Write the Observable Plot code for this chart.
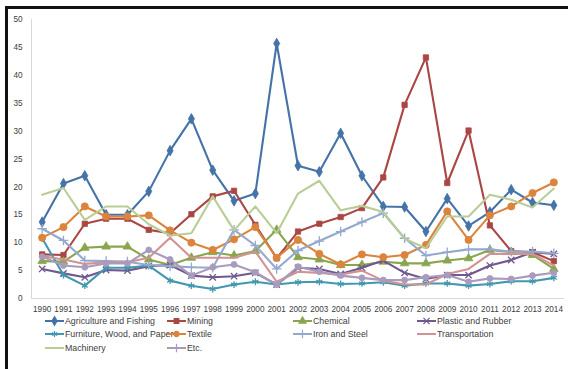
<!DOCTYPE html>
<html>
<head>
<meta charset="utf-8">
<script src="https://cdn.jsdelivr.net/npm/d3@7"></script>
<script src="https://cdn.jsdelivr.net/npm/@observablehq/plot@0.6"></script>
<style>
  html, body { margin: 0; padding: 0; background: #fff; }
  #wrap { position: relative; width: 568px; height: 369px; overflow: hidden; font-family: "Liberation Sans", Arial, sans-serif; }
  #border { position: absolute; left: 5px; top: 6px; right: -10px; bottom: -10px; border-left: 3px solid #111; border-top: 3px solid #111; pointer-events: none; }
  #legend { position: absolute; left: 0; top: 313px; width: 568px; height: 56px; font-size: 8.8px; color: #404040; }
  .item { position: absolute; display: flex; align-items: center; white-space: nowrap; }
  .item svg { margin-right: 1px; }
</style>
</head>
<body>
<div id="wrap">
  <div id="chart"></div>
  <div id="legend"></div>
  <div id="border"></div>
</div>
<script>
const years = [1990,1991,1992,1993,1994,1995,1996,1997,1998,1999,2000,2001,2002,2003,2004,2005,2006,2007,2008,2009,2010,2011,2012,2013,2014];
const yTicks = [0,5,10,15,20,25,30,35,40,45,50];

const seriesNames = ["Agriculture and Fishing","Mining","Chemical","Plastic and Rubber","Furniture, Wood, and Paper","Textile","Iron and Steel","Transportation","Machinery","Etc."];

const agriculture   = [13.7,20.6,22.0,15.0,15.0,19.2,26.5,32.2,23.0,17.5,18.8,45.7,23.8,22.7,29.6,22.0,16.5,16.4,12.0,17.9,13.0,15.5,19.5,17.2,16.7];
const mining        = [7.9,7.8,13.4,14.3,14.3,12.3,11.7,15.1,18.3,19.3,13.2,7.2,12.0,13.4,14.6,16.2,21.7,34.7,43.2,20.7,30.1,13.1,8.5,8.3,6.7];
const chemical      = [6.7,6.6,9.1,9.3,9.3,7.0,6.0,7.3,8.3,7.7,8.5,12.3,7.4,7.0,6.0,6.0,6.6,6.3,6.3,6.8,7.2,8.7,8.3,7.8,5.3];
const plastic       = [5.3,4.5,3.8,5.1,5.0,5.8,6.0,4.1,3.8,4.0,4.6,2.5,5.5,5.3,4.4,5.5,6.8,4.6,3.5,4.2,4.2,5.9,6.9,8.3,8.0];
const furniture     = [10.8,4.2,2.3,5.5,5.5,5.9,3.2,2.3,1.7,2.5,3.0,2.5,2.9,3.0,2.6,2.7,2.9,2.3,2.7,2.7,2.3,2.6,3.1,3.1,3.7];
const textile       = [10.9,12.8,16.5,14.7,14.7,14.9,12.2,10.0,8.7,10.6,12.8,7.3,10.5,8.0,6.1,7.9,7.4,7.8,9.6,15.6,10.5,14.9,16.5,18.9,20.8];
const ironSteel     = [12.5,10.4,6.8,6.7,6.6,6.0,5.8,5.6,5.5,12.3,9.5,5.3,8.6,10.3,12.0,13.7,15.3,10.8,7.7,8.3,8.8,8.8,8.4,8.4,8.1];
const transportation= [7.6,7.0,6.2,6.5,6.5,7.3,10.9,7.3,7.3,7.3,8.4,3.0,4.8,4.6,4.3,5.0,3.2,2.5,2.5,4.4,5.3,8.0,8.0,8.0,5.9];
const machinery     = [18.6,19.8,14.1,16.5,16.5,13.3,11.3,11.7,18.3,12.2,16.5,11.7,18.8,21.1,15.8,16.6,15.5,10.7,9.0,14.7,14.7,18.6,17.7,16.3,19.7];
const etc           = [7.5,5.9,5.6,6.3,6.3,8.7,7.0,4.1,5.6,6.1,4.7,2.5,5.7,4.8,4.1,3.7,3.3,3.3,3.8,4.2,3.0,3.6,3.5,4.1,4.6];

const seriesValues = [agriculture, mining, chemical, plastic, furniture, textile, ironSteel, transportation, machinery, etc];

// styles (kept apart from data)
const colors  = ["#4572A7","#AA4643","#89A54E","#71588F","#4198AF","#DB843D","#93A9CF","#D19392","#B9CD96","#A99BBD"];
const symbols = ["diamond","square","triangle","times","asterisk","circle","plus",null,null,"circle"];
const radius  = [3.2,3.0,3.2,3.0,3.2,3.6,3.2,0,0,3.0];

const rows = [];
seriesNames.forEach((name, i) => {
  seriesValues[i].forEach((v, j) => rows.push({series: name, idx: i, year: years[j], value: v}));
});

const marks = [
  Plot.ruleY([yTicks[0]], {stroke: "#d9d9d9", strokeWidth: 1}),
  Plot.ruleX([years[0] - 0.5], {y1: yTicks[0], y2: yTicks[yTicks.length - 1], stroke: "#d9d9d9", strokeWidth: 1}),
  Plot.axisX({ticks: years, tickFormat: d => String(d), tickSize: 0, tickPadding: 8, fontSize: 8.2, fill: "#404040", label: null}),
  Plot.axisY({ticks: yTicks, tickSize: 0, tickPadding: 9, fontSize: 8.2, fill: "#404040", label: null})
];
seriesNames.forEach((name, i) => {
  const d = rows.filter(r => r.idx === i);
  marks.push(Plot.line(d, {x: "year", y: "value", stroke: colors[i], strokeWidth: 2.1}));
  if (symbols[i]) {
    const filled = ["diamond","square","triangle","circle"].includes(symbols[i]);
    marks.push(Plot.dot(d, {
      x: "year", y: "value", symbol: () => symbols[i], r: radius[i],
      fill: filled ? colors[i] : "none",
      stroke: colors[i], strokeWidth: filled ? 0.8 : 1.3
    }));
  }
});

const chart = Plot.plot({
  width: 568,
  height: 318,
  marginTop: 19,
  marginBottom: 20,
  marginLeft: 31,
  marginRight: 4,
  x: {type: "linear", domain: [years[0] - 0.5, years[years.length - 1] + 0.5], axis: null, label: null},
  y: {domain: [yTicks[0], yTicks[yTicks.length - 1]], axis: null, label: null},
  symbol: {type: "identity"},
  style: {fontFamily: "Liberation Sans, Arial, sans-serif", background: "transparent", overflow: "visible"},
  marks
});
document.getElementById("chart").appendChild(chart);

// legend
const legend = document.getElementById("legend");
const colX = [45, 167, 293, 417];
const rowY = [8, 21, 35];
seriesNames.forEach((name, k) => {
  const i = k;
  const col = k % 4, row = Math.floor(k / 4);
  const div = document.createElement("div");
  div.className = "item";
  div.style.left = colX[col] + "px";
  div.style.top = (rowY[row] - 6) + "px";
  const svg = d3.create("svg").attr("width", 19).attr("height", 12);
  svg.append("line").attr("x1", 0).attr("x2", 19).attr("y1", 6).attr("y2", 6)
    .attr("stroke", colors[i]).attr("stroke-width", 2);
  if (symbols[i]) {
    const map = {diamond: d3.symbolDiamond, square: d3.symbolSquare, triangle: d3.symbolTriangle,
                 times: d3.symbolTimes, asterisk: d3.symbolAsterisk, circle: d3.symbolCircle, plus: d3.symbolPlus};
    const filled = ["diamond","square","triangle","circle"].includes(symbols[i]);
    const sym = i === 9 ? d3.symbolPlus : map[symbols[i]];
    svg.append("path").attr("transform", "translate(9.5,6)")
      .attr("d", d3.symbol(sym, filled && i !== 9 ? 22 : 26)())
      .attr("fill", filled && i !== 9 ? colors[i] : "none")
      .attr("stroke", colors[i]).attr("stroke-width", 1.2);
  }
  div.appendChild(svg.node());
  const span = document.createElement("span");
  span.textContent = name;
  div.appendChild(span);
  legend.appendChild(div);
});
</script>
</body>
</html>
